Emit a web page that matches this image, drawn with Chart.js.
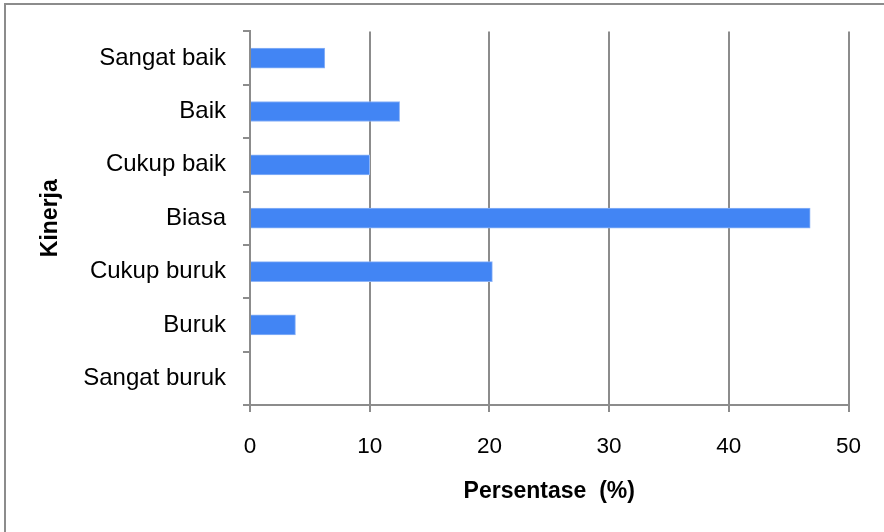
<!DOCTYPE html>
<html>
<head>
<meta charset="utf-8">
<script src="https://cdn.jsdelivr.net/npm/chart.js@4/dist/chart.umd.min.js"></script>
<style>
  html, body { margin: 0; padding: 0; background: #ffffff; }
  canvas { display: block; }
</style>
</head>
<body>
<canvas id="chart" width="884" height="532"></canvas>
<script>
// Performance rating categories (top to bottom) and share of respondents (%)
const categories = ['Sangat baik', 'Baik', 'Cukup baik', 'Biasa', 'Cukup buruk', 'Buruk', 'Sangat buruk'];
const percentages = [6.25, 12.5, 10, 46.8, 20.25, 3.8, 0];
const xTicks = [0, 10, 20, 30, 40, 50];

const GRID = '#8c8c8c';
const FONT = "'Liberation Sans', Arial, sans-serif";

// Thin frame around the whole figure
const framePlugin = {
  id: 'frame',
  afterDraw(chart) {
    const ctx = chart.ctx;
    ctx.save();
    ctx.strokeStyle = GRID;
    ctx.lineWidth = 2;
    ctx.strokeRect(5, 4, chart.width + 20, chart.height + 20);
    ctx.restore();
  }
};

new Chart(document.getElementById('chart'), {
  type: 'bar',
  data: {
    labels: categories,
    datasets: [{
      data: percentages,
      backgroundColor: '#4285f4',
      borderColor: '#8db4f7',
      borderWidth: 1,
      borderSkipped: 'start',
      barThickness: 20
    }]
  },
  options: {
    indexAxis: 'y',
    responsive: false,
    animation: false,
    layout: { padding: { left: 0, right: 35.5, top: 30, bottom: 0 } },
    plugins: { legend: { display: false }, tooltip: { enabled: false } },
    scales: {
      x: {
        min: 0,
        max: 50,
        afterBuildTicks(scale) { scale.ticks = xTicks.map(v => ({ value: v })); },
        afterFit(scale) { scale.height = 127; },
        grid: { color: GRID, lineWidth: 2, tickLength: 7, drawTicks: true },
        border: { color: GRID, width: 2 },
        ticks: { color: '#000', font: { family: FONT, size: 22.5 }, padding: 21, maxRotation: 0 },
        title: {
          display: true,
          text: 'Persentase  (%)',
          color: '#000',
          font: { family: FONT, size: 23, weight: 'bold' },
          padding: { top: 0, bottom: 26.5 }
        }
      },
      y: {
        afterFit(scale) { scale.width = 250; },
        grid: { color: GRID, lineWidth: 2, tickLength: 7, drawOnChartArea: false, drawTicks: true, offset: true },
        border: { color: GRID, width: 2 },
        ticks: { color: '#000', font: { family: FONT, size: 24 }, padding: 17 },
        title: {
          display: true,
          text: 'Kinerja',
          color: '#000',
          font: { family: FONT, size: 23, weight: 'bold' },
          padding: { top: 37, bottom: 0 }
        }
      }
    }
  },
  plugins: [framePlugin]
});
</script>
</body>
</html>
